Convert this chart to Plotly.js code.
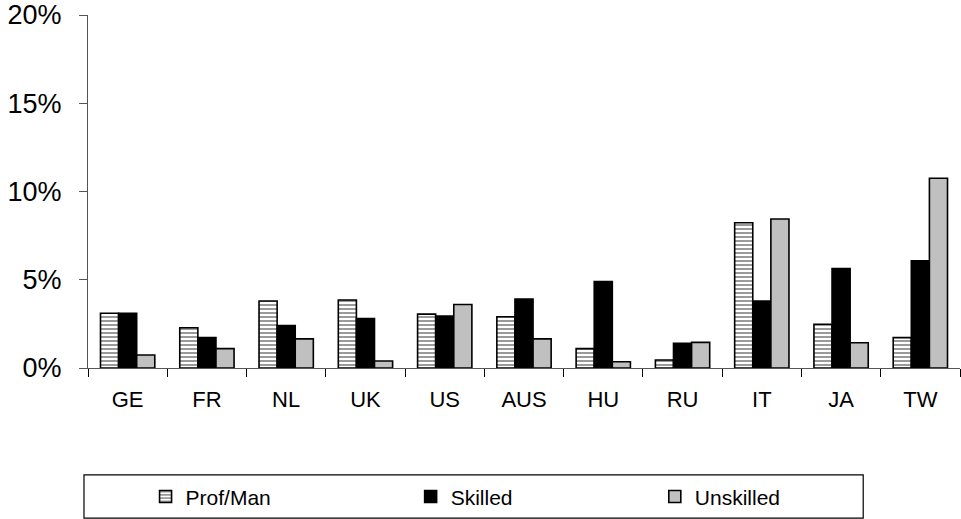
<!DOCTYPE html>
<html>
<head>
<meta charset="utf-8">
<script src="https://cdn.plot.ly/plotly-3.0.1.min.js"></script>
<style>html,body{margin:0;padding:0;background:#fff;}#chart{width:961px;height:519px;}</style>
</head>
<body>
<div id="chart"></div>
<script>
var countries = ["GE","FR","NL","UK","US","AUS","HU","RU","IT","JA","TW"];
var profMan   = [3.1, 2.28, 3.8, 3.85, 3.05, 2.9, 1.1, 0.45, 8.23, 2.48, 1.72];
var skilled   = [3.1, 1.72, 2.4, 2.8, 2.95, 3.9, 4.9, 1.4, 3.8, 5.63, 6.08];
var unskilled = [0.74, 1.1, 1.65, 0.4, 3.6, 1.65, 0.35, 1.45, 8.44, 1.43, 10.75];
var yTicks = [0, 5, 10, 15, 20];
var yTickLabels = ["0%", "5%", "10%", "15%", "20%"];

var FONT = "Liberation Sans, Arial, sans-serif";
var outline = {color: "#000", width: 1.6};

var traces = [
  {type: "bar", name: "Prof/Man", x: countries, y: profMan, legend: "legend",
   marker: {color: "#ffffff", line: outline,
            pattern: {shape: "-", fgcolor: "#9a9a9a", bgcolor: "#ffffff", size: 4, solidity: 0.5}}},
  {type: "bar", name: "Skilled", x: countries, y: skilled, legend: "legend2",
   marker: {color: "#000000", line: outline}},
  {type: "bar", name: "Unskilled", x: countries, y: unskilled, legend: "legend3",
   marker: {color: "#c0c0c0", line: outline}}
];

var legBase = {orientation: "h", yanchor: "middle", y: -0.365, xanchor: "left",
  font: {family: FONT, size: 21, color: "#000"}, bgcolor: "rgba(0,0,0,0)", borderwidth: 0};

var layout = {
  width: 961, height: 519,
  margin: {l: 88, r: 1, t: 15, b: 151},
  paper_bgcolor: "#fff", plot_bgcolor: "#fff",
  barmode: "group", bargap: 0.315, bargroupgap: 0,
  showlegend: true,
  font: {family: FONT, color: "#000"},
  xaxis: {type: "category", categoryarray: countries, range: [-0.5, 10.5],
          showline: true, linecolor: "#555", linewidth: 1,
          ticks: "outside", tickson: "boundaries", ticklen: 8, tickcolor: "#000", tickwidth: 1,
          ticklabelstandoff: 12,
          tickfont: {family: FONT, size: 22, color: "#000"},
          showgrid: false, zeroline: false},
  yaxis: {range: [0, 20], tickmode: "array", tickvals: yTicks, ticktext: yTickLabels,
          showline: true, linecolor: "#555", linewidth: 1,
          ticks: "outside", ticklen: 8, tickcolor: "#555",
          ticklabelstandoff: 12,
          showgrid: false, zeroline: false,
          tickfont: {family: FONT, size: 27, color: "#000"}},
  legend: Object.assign({}, legBase, {x: 0.066}),
  legend2: Object.assign({}, legBase, {x: 0.370}),
  legend3: Object.assign({}, legBase, {x: 0.650}),
  shapes: [{type: "rect", xref: "paper", yref: "paper",
            x0: -0.0046, x1: 0.889, y0: -0.303, y1: -0.425,
            line: {color: "#000", width: 1.2}, fillcolor: "rgba(0,0,0,0)"}]
};

Plotly.newPlot("chart", traces, layout, {displayModeBar: false, staticPlot: true});
</script>
</body>
</html>
